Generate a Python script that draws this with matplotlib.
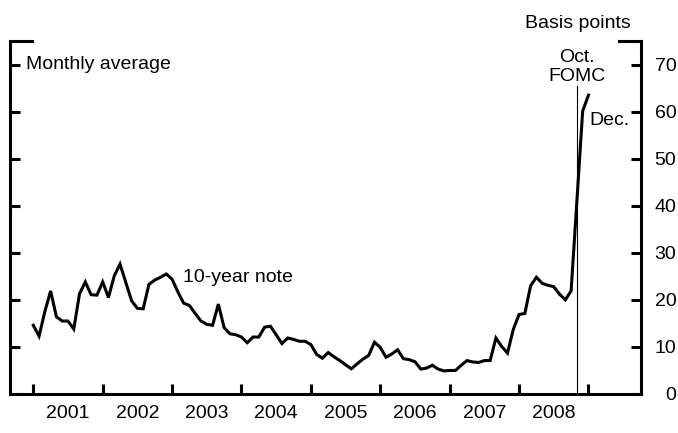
import pandas as pd
import matplotlib
matplotlib.use("Agg")
import matplotlib.pyplot as plt
from matplotlib.ticker import FixedLocator, FixedFormatter

plt.rcParams["font.family"] = ["Liberation Sans", "DejaVu Sans"]

# monthly average, basis points (Dec 2000 - Dec 2008)
months = pd.period_range("2000-12", "2008-12", freq="M")
note_10yr = [
    14.6, 12.3, 17.5, 21.9, 16.4, 15.5, 15.5, 13.8, 21.3, 23.8, 21.1, 21.0,
    23.8, 20.5, 25.1, 27.6, 23.7, 19.8, 18.2, 18.1, 23.3, 24.2, 24.8, 25.5,
    24.4, 21.7, 19.3, 18.8, 17.1, 15.5, 14.8, 14.6, 19.1, 14.1, 12.8, 12.6,
    12.1, 10.9, 12.1, 12.1, 14.2, 14.4, 12.6, 10.7, 11.9, 11.6, 11.2, 11.2,
    10.5, 8.4, 7.6, 8.8, 7.9, 7.1, 6.2, 5.35, 6.4, 7.4, 8.2, 11.0,
    9.9, 7.8, 8.5, 9.4, 7.5, 7.3, 6.85, 5.3, 5.5, 6.1, 5.3, 4.9,
    5.0, 5.0, 6.1, 7.1, 6.8, 6.7, 7.1, 7.1, 11.9, 10.1, 8.7, 13.7,
    16.9, 17.1, 23.0, 24.8, 23.5, 23.1, 22.8, 21.2, 20.0, 21.9, 41.0, 60.1,
    63.5,
]
years = list(range(2001, 2009))
y_ticks = [0, 10, 20, 30, 40, 50, 60, 70]
fomc_x = 2008 + (9 + 29 / 31) / 12  # Oct. 29, 2008 FOMC

# each month plotted at its end
x = months.year + months.month / 12


def main():
    fig = plt.figure(figsize=(6.78, 4.33), dpi=100)
    ax = fig.add_axes([0.0147, 0.0901, 0.9307, 0.8152])

    lw = 2.2
    ax.plot(x, note_10yr, color="black", linewidth=lw, solid_joinstyle="miter")
    ax.plot([fomc_x, fomc_x], [0, 65.5], color="black", linewidth=0.8)

    ax.set_xlim(2000.664, 2009.757)
    ax.set_ylim(0, 75)

    for side in ["left", "right", "bottom"]:
        ax.spines[side].set_linewidth(lw)
    ax.spines["top"].set_visible(False)
    # short caps at the top of the side spines
    ax.plot([0, 0.035], [1, 1], transform=ax.transAxes, color="black",
            linewidth=lw, clip_on=False, solid_capstyle="projecting")
    ax.plot([0.965, 1], [1, 1], transform=ax.transAxes, color="black",
            linewidth=lw, clip_on=False, solid_capstyle="projecting")

    # x: ticks at year boundaries, labels mid-year
    ax.xaxis.set_major_locator(FixedLocator(years + [2009]))
    ax.xaxis.set_minor_locator(FixedLocator([yr + 0.5 for yr in years]))
    ax.xaxis.set_minor_formatter(FixedFormatter([str(yr) for yr in years]))
    ax.tick_params(axis="x", which="major", direction="in", length=7.5,
                   width=lw, labelbottom=False)
    ax.tick_params(axis="x", which="minor", length=0, pad=8, labelsize=14)

    ax.set_yticks(y_ticks)
    ax.yaxis.set_ticks_position("both")
    ax.tick_params(axis="y", direction="in", length=7.5, width=lw,
                   labelleft=False, labelright=True, pad=25.5, labelsize=14)
    for lab in ax.get_yticklabels():
        lab.set_horizontalalignment("right")

    ax.text(0.025, 70, "Monthly average", transform=ax.get_yaxis_transform(),
            ha="left", va="center", fontsize=14)
    ax.text(2003.16, 24.8, "10-year note", ha="left", va="center", fontsize=14)
    ax.text(fomc_x, 65.6, "Oct.\nFOMC", ha="center", va="bottom", fontsize=14,
            linespacing=1.2)
    ax.text(2009.02, 58.2, "Dec.", ha="left", va="center", fontsize=14)
    fig.text(631 / 678, 1 - 24 / 433, "Basis points", ha="right", va="center",
             fontsize=14)

    fig.savefig("out.png", dpi=100)
    plt.close(fig)


if __name__ == "__main__":
    main()
